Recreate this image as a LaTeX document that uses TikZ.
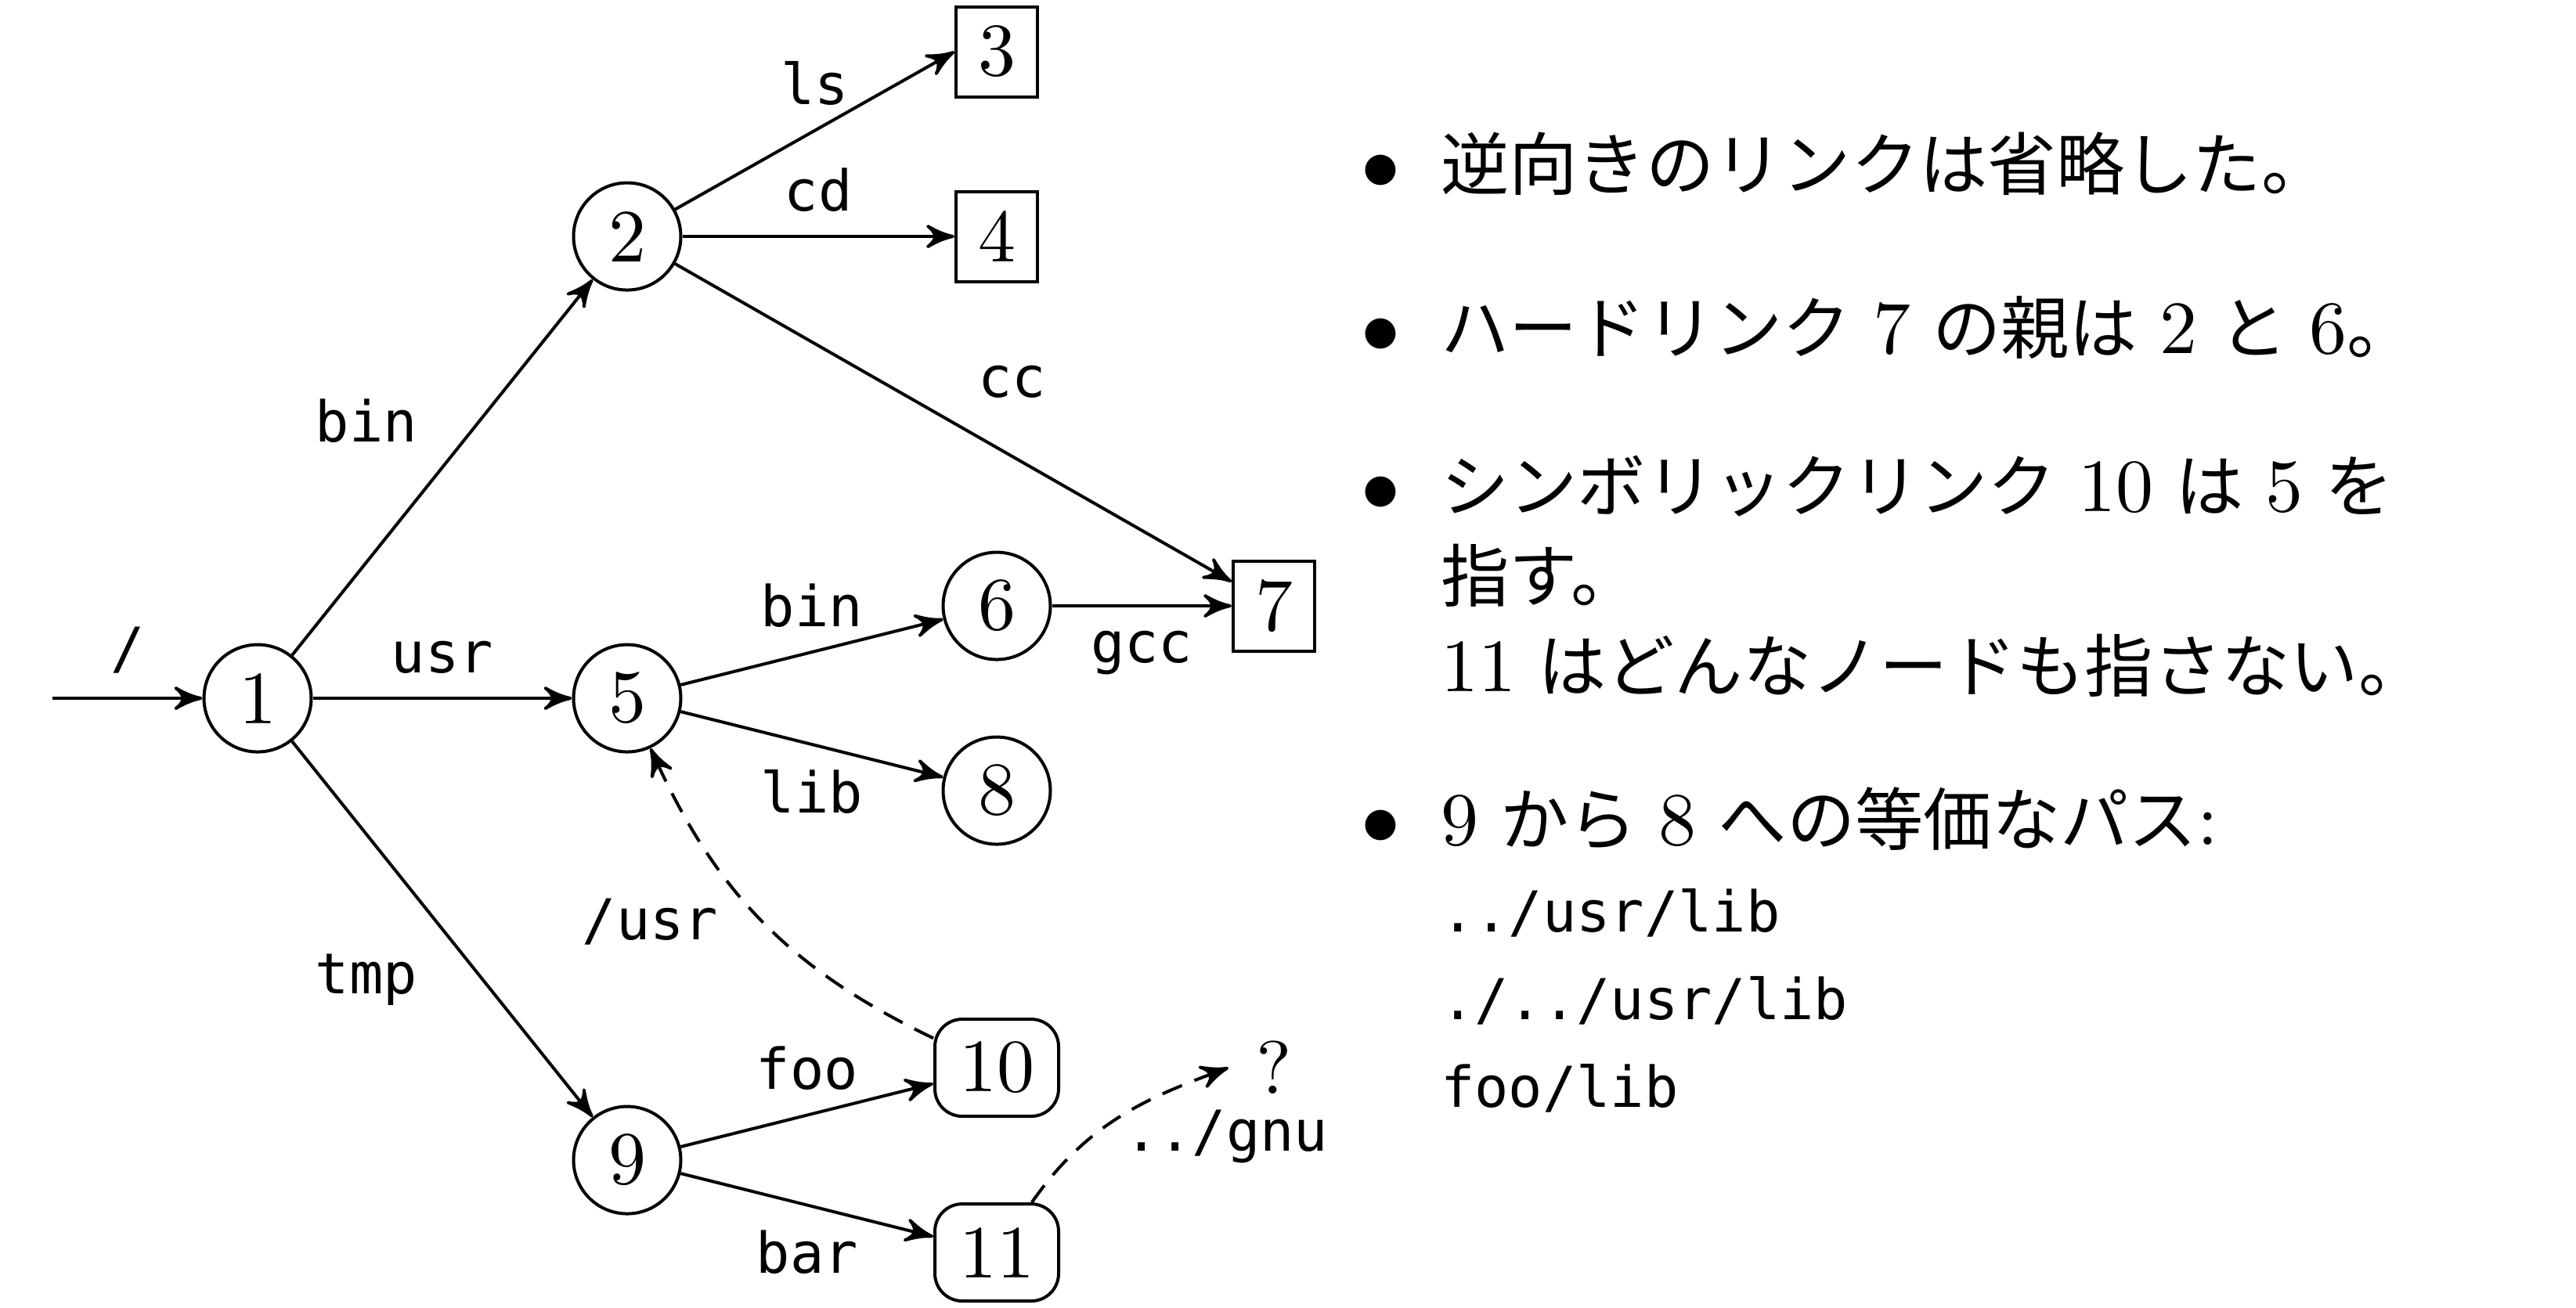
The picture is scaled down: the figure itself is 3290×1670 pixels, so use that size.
\documentclass[tikz,border=0pt]{standalone}
\usepackage{fontspec}
\newfontfamily\lblfont{DejaVu Sans Mono}
\newfontfamily\jtext[Scale=0.91]{Noto Sans CJK JP}
\newcommand\jsp{\hspace{2.8pt}}
\usetikzlibrary{arrows}
\begin{document}
\begin{tikzpicture}[x=0.1pt,y=-0.1pt,>=stealth',
  every node/.style={font=\fontsize{9.6}{11.5}\selectfont},
  state/.style={draw,circle,inner sep=0pt,minimum size=13.7pt},
  file/.style={draw,rectangle,inner sep=0pt,minimum width=10.4pt,minimum height=11.5pt},
  symlink/.style={draw,rectangle,rounded corners=3.5pt,inner sep=0pt,minimum width=15.8pt,minimum height=12.4pt},
  lbl/.style={font=\fontsize{7.2}{8.6}\selectfont\lblfont,inner sep=3pt},
  link/.style={->,dash pattern=on 2.7pt off 1.7pt},
  txt/.style={anchor=base west,inner sep=0pt},
  mono/.style={anchor=base west,inner sep=0pt,font=\fontsize{7.2}{8.6}\selectfont\lblfont},
  bul/.style={anchor=base,inner sep=0pt}]
\useasboundingbox (0,0) rectangle (3290,1670);
% graph nodes
\node[state] (n1) at (329,892) {1};
\node[state] (n2) at (801,302) {2};
\node[state] (n5) at (801,892) {5};
\node[state] (n9) at (801,1482) {9};
\node[file] (n3) at (1273,66) {3};
\node[file] (n4) at (1273,302) {4};
\node[state] (n6) at (1273,774) {6};
\node[file] (n7) at (1627,774) {7};
\node[state] (n8) at (1273,1010) {8};
\node[symlink] (n10) at (1273,1364) {10};
\node[symlink] (n11) at (1273,1600) {11};
\node (q) at (1627,1364) {?};
\coordinate (in) at (67,892);
% edges
\draw[->] (in) -- node[lbl,above] (lroot) {/} (n1);
\draw[->] (n1) -- node[lbl,above left] (lbin1) {bin} (n2);
\draw[->] (n1) -- node[lbl,above] (lusr) {usr} (n5);
\draw[->] (n1) -- node[lbl,below left] (ltmp) {tmp} (n9);
\draw[->] (n2) -- node[lbl,above] (lls) {ls} (n3.west);
\draw[->] (n2) -- node[lbl,above] (lcd) {cd} (n4);
\draw[->] (n2) -- node[lbl,above right] (lcc) {cc} (n7);
\draw[->] (n5) -- node[lbl,above] (lbin5) {bin} (n6);
\draw[->] (n5) -- node[lbl,below] (llib) {lib} (n8);
\draw[->] (n6) -- node[lbl,below] (lgcc) {gcc} (n7);
\draw[->] (n9) -- node[lbl,above] (lfoo) {foo} (n10);
\draw[->] (n9) -- node[lbl,below] (lbar) {bar} (n11);
\draw[link] (n10) to[bend left=20] node[lbl,left,xshift=-2.5pt] (lusr2) {/usr} (n5);
\draw[link] (n11) to[out=55,in=200] node[lbl,right,xshift=-2.3pt,yshift=-2.3pt] (lgnu) {../gnu} (q.west);
% notes
\node[bul] (b1) at (1763,242) {$\bullet$};
\node[txt] (t1) at (1838,242) {\jtext 逆向きのリンクは省略した。};
\node[bul] (b2) at (1763,451) {$\bullet$};
\node[txt] (t2) at (1838,451) {{\jtext ハードリンク}\jsp 7\jsp{\jtext の親は}\jsp 2\jsp{\jtext と}\jsp 6{\jtext 。}};
\node[bul] (b3) at (1763,653) {$\bullet$};
\node[txt] (t3a) at (1838,653) {{\jtext シンボリックリンク}\jsp 10\jsp{\jtext は}\jsp 5\jsp{\jtext を}};
\node[txt] (t3b) at (1838,768) {\jtext 指す。};
\node[txt] (t3c) at (1838,883) {11\jsp{\jtext はどんなノードも指さない。}};
\node[bul] (b4) at (1763,1079) {$\bullet$};
\node[txt] (t4a) at (1838,1079) {9\jsp{\jtext から}\jsp 8\jsp{\jtext への等価なパス}:};
\node[mono] (p1) at (1838,1190) {../usr/lib};
\node[mono] (p2) at (1838,1302) {./../usr/lib};
\node[mono] (p3) at (1838,1414) {foo/lib};
\end{tikzpicture}
\end{document}
